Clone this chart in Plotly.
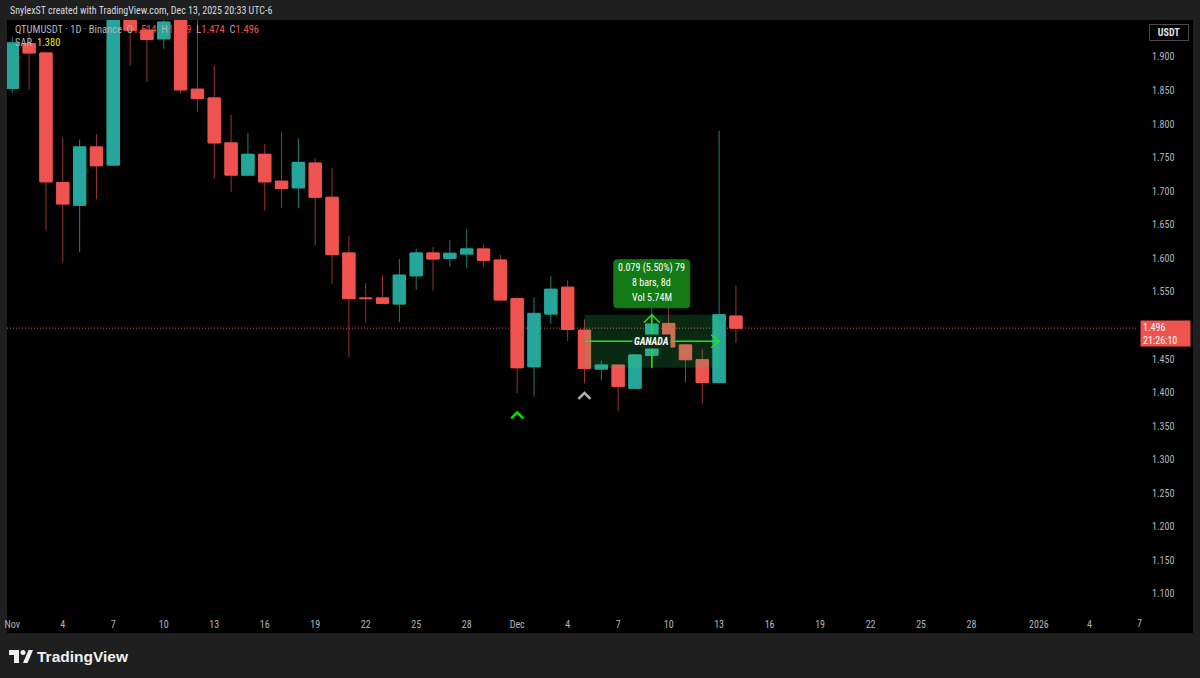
import plotly.graph_objects as go
import pandas as pd

# ---------------- data ----------------
dates = pd.date_range("2025-11-01", "2025-12-14", freq="D")
opens = [1.853, 1.920, 1.906, 1.713, 1.679, 1.766, 1.739, 2.035, 1.940, 1.927,
         1.975, 1.852, 1.839, 1.772, 1.724, 1.755, 1.715, 1.705, 1.742, 1.691,
         1.608, 1.541, 1.541, 1.532, 1.574, 1.608, 1.600, 1.6065, 1.614, 1.5975,
         1.540, 1.4385, 1.517, 1.557, 1.493, 1.435, 1.441, 1.4065, 1.4556, 1.503,
         1.471, 1.449, 1.415, 1.514]
highs = [1.930, 1.935, 1.907, 1.780, 1.777, 1.785, 2.060, 2.080, 1.946, 1.975,
         1.990, 1.985, 1.887, 1.814, 1.787, 1.770, 1.788, 1.779, 1.749, 1.735,
         1.633, 1.563, 1.575, 1.599, 1.6144, 1.617, 1.627, 1.644, 1.621, 1.605,
         1.543, 1.542, 1.574, 1.567, 1.509, 1.4475, 1.442, 1.457, 1.533, 1.527,
         1.472, 1.4645, 1.790, 1.559]
lows = [1.847, 1.851, 1.641, 1.594, 1.609, 1.688, 1.737, 1.887, 1.863, 1.912,
        1.846, 1.8185, 1.719, 1.699, 1.723, 1.671, 1.675, 1.675, 1.619, 1.562,
        1.4526, 1.505, 1.5315, 1.505, 1.553, 1.552, 1.5876, 1.586, 1.587, 1.537,
        1.399, 1.394, 1.502, 1.477, 1.414, 1.418, 1.372, 1.405, 1.436, 1.467,
        1.415, 1.383, 1.414, 1.474]
closes = [1.921, 1.906, 1.714, 1.681, 1.766, 1.738, 2.040, 1.940, 1.926, 1.952,
          1.851, 1.838, 1.772, 1.724, 1.755, 1.714, 1.704, 1.743, 1.691, 1.6055,
          1.540, 1.540, 1.533, 1.575, 1.608, 1.599, 1.6075, 1.614, 1.597, 1.538,
          1.437, 1.518, 1.554, 1.494, 1.436, 1.441, 1.409, 1.456, 1.502, 1.468,
          1.449, 1.415, 1.516, 1.496]

sar_dates = ["2025-12-01", "2025-12-05"]
sar_values = [1.366, 1.395]
sar_colors = ["#00e600", "#b4b4b4"]
sar_last = 1.380

range_start = "2025-12-05"
range_end = "2025-12-13"
range_low = 1.437
range_high = 1.516
range_lines = ["0.079 (5.50%) 79", "8 bars, 8d", "Vol 5.74M"]
range_name = "GANADA"

price_ticks = [1.100, 1.150, 1.200, 1.250, 1.300, 1.350, 1.400, 1.450,
               1.550, 1.600, 1.650, 1.700, 1.750, 1.800, 1.850, 1.900]
date_ticks = ["2025-11-01", "2025-11-04", "2025-11-07", "2025-11-10", "2025-11-13",
              "2025-11-16", "2025-11-19", "2025-11-22", "2025-11-25", "2025-11-28",
              "2025-12-01", "2025-12-04", "2025-12-07", "2025-12-10", "2025-12-13",
              "2025-12-16", "2025-12-19", "2025-12-22", "2025-12-25", "2025-12-28",
              "2026-01-01", "2026-01-04", "2026-01-07"]
date_tick_text = ["Nov", "4", "7", "10", "13", "16", "19", "22", "25", "28",
                  "Dec", "4", "7", "10", "13", "16", "19", "22", "25", "28",
                  "2026", "4", "7"]

symbol_info = "QTUMUSDT · 1D · Binance"
header_text = "SnylexST created with TradingView.com, Dec 13, 2025 20:33 UTC-6"
countdown = "21:26:10"
currency = "USDT"

# ---------------- geometry / style ----------------
W, H = 1200, 678
L, R, T, B = 7, 62, 20, 66
PW, PH = W - L - R, H - T - B
UP, DOWN = "#26a69a", "#ef5350"
UP_WICK, DOWN_WICK = "#1f7d73", "#9a3434"
GRID_TXT = "#b2b5be"
GREEN = "#22e022"
FONT = "Liberation Sans Narrow, Roboto Condensed, Arial Narrow, Liberation Sans, sans-serif"
FONT_WIDE = "Liberation Sans, Arial, sans-serif"

x_start = pd.Timestamp("2025-11-01") - pd.Timedelta(days=0.315)
x_end = pd.Timestamp("2025-11-01") + pd.Timedelta(days=66.89)
y_range = [1.0731, 1.9551]


def px_x(p):
    return (p - L) / PW


def px_y(p):
    return (H - B - p) / PH


def date_frac(d):
    return (pd.Timestamp(d) - x_start) / (x_end - x_start)


body_hi = [max(o, c) for o, c in zip(opens, closes)]
body_lo = [min(o, c) for o, c in zip(opens, closes)]

fig = go.Figure()
# wicks
fig.add_trace(go.Candlestick(
    x=dates, open=opens, high=highs, low=lows, close=closes,
    increasing=dict(line=dict(color=UP_WICK, width=1), fillcolor=UP),
    decreasing=dict(line=dict(color=DOWN_WICK, width=1), fillcolor=DOWN),
    hoverinfo="skip", showlegend=False))
# bodies
fig.add_trace(go.Candlestick(
    x=dates, open=opens, high=body_hi, low=body_lo, close=closes,
    increasing=dict(line=dict(color=UP, width=1), fillcolor=UP),
    decreasing=dict(line=dict(color=DOWN, width=1), fillcolor=DOWN),
    hoverinfo="skip", showlegend=False))

shapes = []
# black chart panel (extends under axes)
shapes.append(dict(type="rect", xref="paper", yref="paper", x0=0, x1=px_x(1193),
                   y0=px_y(633), y1=1, fillcolor="#000000", line=dict(width=0),
                   layer="below"))
# current price dotted line
shapes.append(dict(type="line", xref="paper", yref="y", x0=0, x1=1,
                   y0=closes[-1], y1=closes[-1],
                   line=dict(color=DOWN, width=1, dash="1px,2px"), layer="below"))
# measure range box
mid_price = (range_low + range_high) / 2
mid_date = pd.Timestamp(range_start) + (pd.Timestamp(range_end) - pd.Timestamp(range_start)) / 2
mid_date_s = mid_date.strftime("%Y-%m-%d")
shapes.append(dict(type="rect", xref="x", yref="y", x0=range_start, x1=range_end,
                   y0=range_low, y1=range_high, fillcolor="rgba(50,220,100,0.19)",
                   line=dict(width=0), layer="above"))
shapes.append(dict(type="line", xref="x", yref="y", x0=range_start, x1=range_end,
                   y0=mid_price, y1=mid_price, line=dict(color=GREEN, width=1.5),
                   layer="above"))
shapes.append(dict(type="line", xref="x", yref="y", x0=mid_date_s, x1=mid_date_s,
                   y0=range_low, y1=range_high, line=dict(color=GREEN, width=1.5),
                   layer="above"))
# arrow heads (pixel sized, anchored on data)
shapes.append(dict(type="path", xref="x", yref="y", xsizemode="pixel", ysizemode="pixel",
                   xanchor=range_end, yanchor=mid_price,
                   path="M-8,6.5 L0,0 L-8,-6.5", line=dict(color=GREEN, width=1.5),
                   layer="above"))
shapes.append(dict(type="path", xref="x", yref="y", xsizemode="pixel", ysizemode="pixel",
                   xanchor=mid_date_s, yanchor=range_high,
                   path="M-8,-8 L0,0 L8,-8", line=dict(color=GREEN, width=1.5),
                   layer="above"))
# label box above the range
shapes.append(dict(type="path", xref="x", yref="y", xsizemode="pixel", ysizemode="pixel",
                   xanchor=mid_date_s, yanchor=range_high,
                   path="M-35,7 L35,7 Q38,7 38,10 L38,52 Q38,55 35,55 L-35,55 "
                        "Q-38,55 -38,52 L-38,10 Q-38,7 -35,7 Z",
                   fillcolor="#147a14", line=dict(color="#147a14", width=1),
                   layer="above"))
# SAR chevrons
for d, v, c in zip(sar_dates, sar_values, sar_colors):
    shapes.append(dict(type="path", xref="x", yref="y", xsizemode="pixel",
                       ysizemode="pixel", xanchor=d, yanchor=v,
                       path="M-6,-3 L0,3 L6,-3", line=dict(color=c, width=2.5),
                       layer="above"))
# TradingView logo
logo = "#f0f0f0"
shapes.append(dict(type="rect", xref="paper", yref="paper", x0=px_x(9), x1=px_x(19),
                   y0=px_y(655), y1=px_y(650), fillcolor=logo, line=dict(width=0)))
shapes.append(dict(type="rect", xref="paper", yref="paper", x0=px_x(14), x1=px_x(19),
                   y0=px_y(663), y1=px_y(650), fillcolor=logo, line=dict(width=0)))
shapes.append(dict(type="circle", xref="paper", yref="paper", x0=px_x(20.5), x1=px_x(25.5),
                   y0=px_y(655), y1=px_y(650), fillcolor=logo, line=dict(width=0)))
shapes.append(dict(type="path", xref="paper", yref="paper", xsizemode="pixel",
                   ysizemode="pixel", xanchor=0, yanchor=0,
                   path="M%g,%g L%g,%g L%g,%g L%g,%g Z" % (23 - L, H - B - 663, 28.5 - L, H - B - 650,
                                                          33 - L, H - B - 650, 27.5 - L, H - B - 663),
                   fillcolor=logo, line=dict(width=0)))

annotations = []
# header
annotations.append(dict(xref="paper", yref="paper", x=px_x(8), y=px_y(10),
                        xanchor="left", yanchor="middle", showarrow=False,
                        text=header_text, font=dict(family=FONT, size=10, color="#d8dadf")))
# symbol legend
vals = ["O", opens[-1], "H", highs[-1], "L", lows[-1], "C", closes[-1]]
ohlc = "&nbsp;&nbsp;".join(
    "%s<span style='color:%s'>%.3f</span>" % (vals[i], DOWN, vals[i + 1]) for i in range(0, 8, 2))
annotations.append(dict(xref="paper", yref="paper", x=px_x(13), y=px_y(30),
                        xanchor="left", yanchor="middle", showarrow=False,
                        text=symbol_info + "&nbsp;&nbsp;" + ohlc,
                        font=dict(family=FONT, size=10.5, color=GRID_TXT)))
annotations.append(dict(xref="paper", yref="paper", x=px_x(13), y=px_y(43),
                        xanchor="left", yanchor="middle", showarrow=False,
                        text="SAR&nbsp;&nbsp;<span style='color:#ece23a'>%.3f</span>" % sar_last,
                        font=dict(family=FONT, size=10.5, color=GRID_TXT)))
# range label texts
for txt, dy in zip(range_lines, [47, 32, 17]):
    annotations.append(dict(xref="x", yref="y", x=mid_date_s, y=range_high, yshift=dy,
                            xanchor="center", yanchor="middle", showarrow=False,
                            text=txt, font=dict(family=FONT, size=10, color="#ffffff")))
annotations.append(dict(xref="x", yref="y", x=mid_date_s, y=mid_price, showarrow=False,
                        xanchor="center", yanchor="middle",
                        text="<b><i>%s</i></b>" % range_name, bgcolor="#0a2a13", borderpad=1,
                        font=dict(family=FONT, size=10, color="#ffffff")))
# current price label
annotations.append(dict(xref="paper", yref="y", x=px_x(1140), y=closes[-1], yshift=8,
                        xanchor="left", yanchor="top", showarrow=False, align="left",
                        text="%.3f<br>%s" % (closes[-1], countdown),
                        bgcolor=DOWN, width=45, height=21, borderpad=2,
                        font=dict(family=FONT, size=10, color="#ffffff")))
# currency box
annotations.append(dict(xref="paper", yref="paper", x=px_x(1168.5), y=px_y(33),
                        xanchor="center", yanchor="middle", showarrow=False,
                        text="<b>%s</b>" % currency, bgcolor="#000000",
                        bordercolor="#4a4a4a", borderwidth=1, width=36, height=13,
                        font=dict(family=FONT, size=10, color="#e0e0e0")))
# TradingView brand
annotations.append(dict(xref="paper", yref="paper", x=px_x(35), y=px_y(656),
                        xanchor="left", yanchor="middle", showarrow=False,
                        text="<b>TradingView</b>",
                        font=dict(family=FONT_WIDE, size=15.5, color="#f0f0f0")))

# date ticks: inside range as axis ticks, beyond range as text
tv, tt = [], []
for d, t in zip(date_ticks, date_tick_text):
    f = date_frac(d)
    if 0 <= f <= 1:
        tv.append(d)
        tt.append(t)
    else:
        annotations.append(dict(xref="paper", yref="paper", x=f, y=px_y(623),
                                xanchor="center", yanchor="middle", showarrow=False,
                                text=t, font=dict(family=FONT, size=10, color=GRID_TXT)))

fig.update_layout(
    width=W, height=H,
    margin=dict(l=L, r=R, t=T, b=B, autoexpand=False),
    paper_bgcolor="#1f1f1f", plot_bgcolor="#000000",
    template="none",
    showlegend=False,
    boxgap=0.27, boxgroupgap=0,
    shapes=shapes, annotations=annotations,
    hovermode=False,
    xaxis=dict(type="date", range=[x_start, x_end], rangeslider=dict(visible=False),
               tickvals=tv, ticktext=tt, showgrid=False, zeroline=False, showline=False,
               ticks="outside", ticklen=3, tickcolor="rgba(0,0,0,0)",
               tickfont=dict(family=FONT, size=10, color=GRID_TXT), fixedrange=True),
    yaxis=dict(side="right", range=y_range, tickvals=price_ticks,
               ticktext=["%.3f" % v for v in price_ticks], showgrid=False,
               zeroline=False, showline=False, ticks="outside", ticklen=11,
               tickcolor="rgba(0,0,0,0)",
               tickfont=dict(family=FONT, size=10, color=GRID_TXT), fixedrange=True),
)

fig.write_html("out.html", config={"displayModeBar": False},
               post_script="document.body.style.margin='0';"
                           "document.body.style.overflow='hidden';")
